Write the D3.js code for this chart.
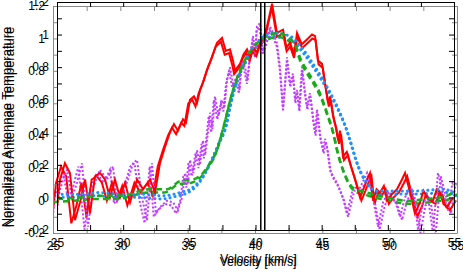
<!DOCTYPE html>
<html>
<head>
<meta charset="utf-8">
<script src="https://cdn.jsdelivr.net/npm/d3@7"></script>
<style>
  body { margin: 0; background: #fff; }
  svg { display: block; font-family: "Liberation Sans", Arial, sans-serif; }
</style>
</head>
<body>
<div id="svg"></div>
<script>
// spectra: velocity [km/s] and normalized antenna temperature
const redV = [25.0, 25.23, 25.6, 25.98, 26.36, 26.74, 27.12, 27.49, 27.87, 28.25, 28.63, 29.0, 29.38, 29.76, 30.14, 30.52,
  31.05, 31.5, 32.03, 32.41, 32.78, 33.16, 33.54, 33.84, 34.14, 34.52, 34.75, 35.05, 35.35, 35.58, 35.81, 36.1, 36.41,
  36.7, 37.09, 37.47, 37.75, 38.07, 38.3, 38.45, 38.83, 39.1, 39.36, 39.6, 39.81, 40.1, 40.34, 40.6, 40.87, 41.25, 41.62,
  42.08, 42.35, 42.61, 42.9, 43.14, 43.5, 43.89, 44.27, 44.5, 44.72, 45.03, 45.25, 45.48, 45.63, 45.86, 46.05, 46.24,
  46.39, 46.61, 46.9, 47.14, 47.52, 47.9, 48.2, 48.43, 48.65, 48.88, 49.15, 49.41, 49.7, 49.94, 50.3, 50.69, 51.07, 51.3,
  51.68, 52.05, 52.43, 52.7, 52.96, 53.41, 53.7, 53.94, 54.2, 54.47, 54.92]
const redT = [-0.06, 0.11, 0.21, 0.15, -0.14, -0.03, 0.11, -0.1, 0.13, 0.15, 0.11, 0.0, 0.11, 0.0, 0.09, -0.03,
  0.11, 0.05, 0.11, 0.03, 0.21, 0.31, 0.4, 0.45, 0.41, 0.48, 0.46, 0.6, 0.62, 0.58, 0.66, 0.72, 0.8,
  0.86, 0.95, 0.98, 0.9, 0.91, 0.84, 0.78, 0.82, 0.88, 0.91, 0.86, 0.92, 0.89, 0.95, 0.98, 1.05, 1.19, 1.01,
  1.03, 0.92, 0.95, 0.88, 1.01, 0.94, 0.97, 1.0, 0.99, 0.84, 0.82, 0.7, 0.58, 0.62, 0.5, 0.44, 0.35,
  0.41, 0.25, 0.28, 0.21, 0.11, 0.0, 0.06, 0.11, 0.15, -0.02, 0.05, 0.03, 0.07, -0.02, 0.02, 0.05, 0.11, 0.15,
  0.03, -0.1, -0.03, 0.04, 0.0, -0.02, 0.05, 0.03, -0.04, -0.06, 0.0]

const purpleV = [25.0, 25.08, 25.45, 25.76, 26.13, 26.51, 26.89, 27.12, 27.34, 27.72, 28.25, 28.78, 29.23, 29.53, 29.99,
  30.37, 30.74, 31.05, 31.42, 31.8, 32.18, 32.48, 32.78, 33.31, 33.77, 34.14, 34.45, 34.67, 34.9, 35.05, 35.3, 35.58,
  35.8, 36.03, 36.2, 36.41, 36.56, 36.75, 36.94, 37.2, 37.47, 37.65, 37.85, 38.07, 38.3, 38.6, 38.8, 38.98, 39.21, 39.4,
  39.58, 39.81, 40.0, 40.11, 40.34, 40.57, 40.87, 41.1, 41.32, 41.62, 41.85, 42.08, 42.38, 42.61, 42.83, 43.0, 43.14,
  43.3, 43.51, 43.74, 43.89, 44.12, 44.35, 44.5, 44.65, 44.87, 45.1, 45.25, 45.4, 45.63, 45.86, 46.16, 46.61, 46.91,
  47.37, 47.9, 48.43, 48.88, 49.26, 49.64, 50.01, 50.54, 50.92, 51.3, 51.68, 52.05, 52.28, 52.66, 53.04, 53.41, 53.79,
  54.17, 54.55, 54.92]
const purpleT = [-0.1, 0.0, 0.11, 0.17, 0.0, 0.09, 0.21, 0.0, -0.18, 0.06, 0.17, 0.11, 0.19, -0.02, 0.03,
  0.11, 0.21, 0.23, 0.0, -0.14, 0.21, -0.1, -0.06, -0.02, -0.03, -0.08, 0.0, 0.15, 0.08, 0.23, 0.15, 0.29,
  0.2, 0.35, 0.26, 0.4, 0.52, 0.42, 0.62, 0.5, 0.6, 0.55, 0.72, 0.8, 0.7, 0.74, 0.66, 0.84, 0.8, 0.72,
  0.86, 0.99, 0.88, 1.05, 1.07, 0.9, 0.97, 1.05, 1.01, 0.95, 0.8, 0.55, 0.86, 0.7, 0.76, 0.6, 0.66,
  0.55, 0.8, 0.64, 0.56, 0.64, 0.48, 0.4, 0.54, 0.38, 0.29, 0.36, 0.31, 0.17, 0.13, 0.09, 0.0, -0.1,
  0.06, 0.06, 0.15, 0.0, -0.18, -0.03, 0.03, -0.02, -0.12, 0.0, 0.06, -0.03, -0.2, -0.03, 0.0, -0.22, 0.15,
  0.03, -0.08, 0.11]

const blueV = [25.0, 26.74, 28.25, 29.76, 31.27, 33.01, 34.3, 35.05, 36.03, 36.79, 37.32, 37.85, 38.07, 38.6, 39.36,
  40.34, 41.32, 42.61, 43.59, 44.35, 45.4, 46.16, 46.91, 47.14, 47.67, 48.43, 49.18, 50.39, 52.2, 54.17, 55.0]
const blueT = [0.02, 0.02, 0.03, 0.02, 0.02, 0.01, 0.03, 0.05, 0.13, 0.25, 0.35, 0.46, 0.55, 0.72, 0.86,
  0.97, 1.01, 0.99, 0.91, 0.82, 0.68, 0.56, 0.41, 0.35, 0.21, 0.09, 0.04, 0.04, 0.04, 0.05, 0.03]

const greenV = [25.0, 26.74, 28.25, 29.76, 32.03, 33.31, 34.3, 35.28, 36.03, 36.56, 37.09, 37.55, 38.3, 39.06, 39.81,
  40.87, 41.62, 42.38, 43.14, 43.36, 43.89, 44.35, 44.87, 45.4, 45.86, 46.16, 46.61, 47.37, 48.43, 49.94, 51.45,
  52.96, 54.47, 55.0]
const greenT = [-0.01, 0.0, 0.01, 0.01, 0.05, 0.05, 0.1, 0.11, 0.15, 0.21, 0.29, 0.42, 0.66, 0.82, 0.92,
  0.99, 1.01, 0.99, 0.91, 0.86, 0.78, 0.72, 0.64, 0.52, 0.4, 0.29, 0.17, 0.06, 0.03, 0.0, -0.02,
  -0.01, 0.01, 0.04]

// systemic velocity markers
const markerV = [40.4, 40.7]

const xTicks = [25, 27.5, 30, 32.5, 35, 37.5, 40, 42.5, 45, 47.5, 50, 52.5, 55]
const xLabels = [25, 30, 35, 40, 45, 50, 55]
const yTicks = [-0.2, -0.1, 0, 0.1, 0.2, 0.3, 0.4, 0.5, 0.6, 0.7, 0.8, 0.9, 1, 1.1, 1.2]
const yLabels = [-0.2, 0, 0.2, 0.4, 0.6, 0.8, 1, 1.2]

const series = [
  {v: purpleV, t: purpleT, color: '#c23cff', width: 2, dash: '2,2', curve: d3.curveLinear},
  {v: redV, t: redT, color: '#ff0000', width: 2, dash: null, curve: d3.curveLinear},
  {v: blueV, t: blueT, color: '#1e90ff', width: 3, dash: '0.1,5', curve: d3.curveMonotoneX},
  {v: greenV, t: greenT, color: '#1aaa1a', width: 2.5, dash: '6,4', curve: d3.curveMonotoneX}
]

const svg = d3.select('#svg')
  .append('svg')
    .attr('width', 463)
    .attr('height', 276)

// the figure is two overlaid copies of the same plot, one slightly offset
function drawPanel(box, id) {
  const x = d3.scaleLinear().domain([25, 55]).range([box.left, box.right])
  const y = d3.scaleLinear().domain([-0.2, 1.2]).range([box.bottom, box.top])

  svg.append('clipPath')
    .attr('id', id)
  .append('rect')
    .attr('x', box.left)
    .attr('y', box.top)
    .attr('width', box.right - box.left)
    .attr('height', box.bottom - box.top)

  const plot = svg.append('g').attr('clip-path', `url(#${id})`)

  series.forEach(s => {
    const pts = s.v.map((v, i) => [v, s.t[i]])
    plot.append('path')
      .datum(pts)
      .attr('fill', 'none')
      .attr('stroke', s.color)
      .attr('stroke-width', s.width)
      .attr('stroke-dasharray', s.dash)
      .attr('stroke-linecap', s.dash === '0.1,5' ? 'round' : 'butt')
      .attr('d', d3.line().x(d => x(d[0])).y(d => y(d[1])).curve(s.curve))
  })

  if (box.markers) {
    plot.selectAll('line.marker')
      .data(markerV)
      .enter()
      .append('line')
        .attr('class', 'marker')
        .attr('x1', d => x(d))
        .attr('x2', d => x(d))
        .attr('y1', box.top)
        .attr('y2', box.bottom)
        .attr('stroke', '#000')
        .attr('stroke-width', 1.5)
  }

  const fmtX = d => xLabels.includes(d) ? String(d) : ''
  const fmtY = d => yLabels.includes(d) ? String(d) : ''

  const axes = [
    {ax: d3.axisBottom(x).tickValues(xTicks).tickFormat(fmtX), tr: `translate(0,${box.bottom})`},
    {ax: d3.axisTop(x).tickValues(xTicks).tickFormat(''), tr: `translate(0,${box.top})`},
    {ax: d3.axisLeft(y).tickValues(yTicks).tickFormat(fmtY), tr: `translate(${box.left},0)`},
    {ax: d3.axisRight(y).tickValues(yTicks).tickFormat(''), tr: `translate(${box.right},0)`}
  ]
  axes.forEach(a => {
    const g = svg.append('g')
      .attr('transform', a.tr)
      .call(a.ax.tickSizeInner(-5).tickSizeOuter(0).tickPadding(8))
    g.selectAll('path, line').attr('stroke', box.stroke)
    g.selectAll('text').attr('fill', '#000').style('font-size', '12px')
  })

  svg.append('text')
    .attr('x', (box.left + box.right) / 2 + 3)
    .attr('y', box.xlab)
    .attr('text-anchor', 'middle')
    .style('font-size', '12px')
    .text('Velocity [km/s]')

  svg.append('text')
    .attr('transform', `translate(${box.ylab},127) rotate(-90)`)
    .attr('text-anchor', 'middle')
    .style('font-size', '13px')
    .text('Normalized Antennae Temperature')
}

drawPanel({left: 53, top: 6, right: 457, bottom: 233, stroke: '#888', xlab: 266, ylab: 10.5, markers: false}, 'clipB')
drawPanel({left: 57, top: 2, right: 454, bottom: 230, stroke: '#000', xlab: 263, ylab: 13.5, markers: true}, 'clipA')
</script>
</body>
</html>
